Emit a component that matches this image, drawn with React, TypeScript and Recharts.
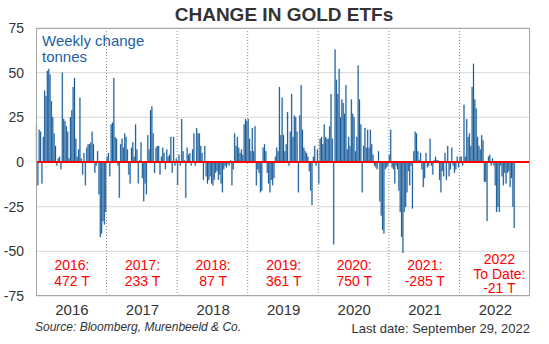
import React from 'react';
import { BarChart, Bar, XAxis, YAxis, CartesianGrid, ReferenceLine } from 'recharts';

// weekly change in gold ETF holdings, tonnes
const years = ['2016', '2017', '2018', '2019', '2020', '2021', '2022'];

const w2016 = [21, -13, 18, 17, -12, 14, 40, 37, 51, 52, 49, 34, 25, 16, 9, -2, 2, 3, -4, 50, 24, 23, 20, 17, 2, 25, 29, 42, 47, 13, 3, 7, 36, 2, -7, 5, -13, 8, 10, 10, 11, 17, 10, -6, -2, 6, -18, -42, -40, -33, -35, -28];
const w2017 = [3, 5, -8, 21, 22, 47, 14, 13, -2, -20, 10, 13, 8, 16, 14, 7, -7, -12, 8, 11, 3, 21, 7, -12, 1, 11, -9, -22, -12, -18, 15, 7, 29, 31, 16, -6, 8, 9, 9, -7, 3, 8, 5, -4, 7, 3, 4, 14, -6, 14, -2, 2];
const w2018 = [-13, 4, -2, 24, 6, 1, -20, 8, 4, 5, -2, 7, 16, -2, 19, 16, 16, 9, 5, -10, 9, -8, -12, -10, -8, -12, -13, -10, -6, -5, -10, -7, -12, -17, -4, -2, -3, -1, -2, 1, -13, -4, 16, 9, 14, 8, 5, 7, 4, 21, 24, 23];
const w2019 = [24, 13, 6, 19, 6, 20, -13, -4, -6, -17, -16, 8, 10, 6, -6, -12, -17, -10, -13, -9, 3, 8, 6, 42, 15, 36, 15, 6, 10, 28, -2, 17, 38, 14, 26, 25, 17, -17, 26, 43, 18, 8, 6, 5, 3, -5, -16, -24, 3, 9, -2, 7];
const w2020 = [-12, 13, 14, 10, 21, 14, 13, 13, 20, 38, 13, -46, 63, 46, 38, 52, 25, 35, 33, 27, 43, 7, 14, 9, 35, 27, 25, 6, 14, 54, 35, 21, -17, 9, 19, 8, 18, 8, 18, 10, 4, -2, -3, -4, 6, -22, -30, -38, -40, -4, -3, -2];
const w2021 = [4, 18, -3, -4, -12, -2, -4, -16, -28, -42, -51, -28, -25, -17, -5, -13, -2, -26, 6, 17, 16, 6, 1, 5, -4, -14, -9, 5, -3, -2, 13, -2, -7, 1, 3, 1, 1, -10, -17, -5, -8, 5, -10, 9, -8, -4, 8, -2, -6, -4, 3, -3];
const w2022 = [3, 3, -2, 32, 3, 24, 14, 16, 9, 42, 55, 35, 30, 14, 9, 7, 15, 12, -11, -11, -33, 3, 4, -2, 2, -2, -13, -28, -25, -28, -2, -8, -13, -6, -12, -6, -5, -14, -9, -25, -37];

const yearNotes = [
  ['2016:', '472 T'],
  ['2017:', '233 T'],
  ['2018:', '87 T'],
  ['2019:', '361 T'],
  ['2020:', '750 T'],
  ['2021:', '-285 T'],
  ['2022', 'To Date:', '-21 T'],
];

const yTicks = [-75, -50, -25, 0, 25, 50, 75];

const WEEKS = 52;
const weekly = [w2016, w2017, w2018, w2019, w2020, w2021, w2022];
const data = weekly.flatMap((arr, k) =>
  Array.from({ length: WEEKS }, (_, i) => ({ idx: k * WEEKS + i, v: i < arr.length ? arr[i] : null }))
);

const FONT = '"Liberation Sans", Arial, sans-serif';

const YearNote = ({ viewBox, lines }: any) => {
  const three = lines.length > 2;
  const x = (viewBox ? viewBox.x : 0) + (three ? 4 : 0);
  const lh = three ? 14.5 : 16;
  const last = three ? 293 : 286;
  return (
    <text x={x} textAnchor="middle" fill="#ff0000" fontSize={14} fontFamily={FONT}>
      {lines.map((l: string, i: number) => (
        <tspan key={i} x={x} y={last - (lines.length - 1 - i) * lh}>{l}</tspan>
      ))}
    </text>
  );
};

export default function App() {
  return (
    <div style={{ position: 'fixed', left: 0, top: 0, width: 549, height: 344, background: '#fff', fontFamily: FONT }}>
      <div style={{ position: 'absolute', left: 0, top: 4, width: 568, textAlign: 'center', fontSize: 19, fontWeight: 'bold', lineHeight: '22px', color: '#333' }}>
        CHANGE IN GOLD ETFs
      </div>
      <BarChart width={549} height={344} data={data} margin={{ top: 28, right: 19, bottom: 18, left: 0 }} barCategoryGap={0}>
        <CartesianGrid vertical={false} stroke="#d9d9d9" />
        <XAxis
          dataKey="idx"
          type="category"
          ticks={years.map((_, k) => k * WEEKS + 26)}
          interval={0}
          tickFormatter={(v: number) => years[Math.floor(v / WEEKS)]}
          tickLine={false}
          axisLine={false}
          height={30}
          tick={{ fontSize: 15, fill: '#333', fontFamily: FONT }}
        />
        <YAxis
          domain={[-75, 75]}
          ticks={yTicks}
          width={36}
          tickLine={false}
          axisLine={false}
          tickMargin={6}
          tick={{ fontSize: 14, fill: '#333', fontFamily: FONT }}
        />
        {years.slice(1).map((_, k) => (
          <ReferenceLine key={'sep' + k} x={(k + 1) * WEEKS} position="start" stroke="#8c8c8c" strokeDasharray="1 2" />
        ))}
        <Bar dataKey="v" fill="#0a4f8f" stroke="#3f7db5" strokeWidth={0.3} isAnimationActive={false} />
        <ReferenceLine y={0} stroke="#ff0000" strokeWidth={2} />
        {yearNotes.map((lines, k) => (
          <ReferenceLine key={'note' + k} x={k * WEEKS + 26} stroke="none" label={<YearNote lines={lines} />} />
        ))}
      </BarChart>
      <div style={{ position: 'absolute', left: 36, top: 28, width: 494, height: 268, border: '1px solid #a6a6a6', boxSizing: 'border-box', pointerEvents: 'none' }} />
      <div style={{ position: 'absolute', left: 42, top: 33, fontSize: 15, lineHeight: '16px', color: '#1f5f9e' }}>
        Weekly change<br />tonnes
      </div>
      <div style={{ position: 'absolute', left: 35, top: 320, fontSize: 12, lineHeight: '14px', fontStyle: 'italic', color: '#333' }}>
        Source: Bloomberg, Murenbeeld &amp; Co.
      </div>
      <div style={{ position: 'absolute', right: 19, top: 322, fontSize: 13, lineHeight: '14px', color: '#333' }}>
        Last date: September 29, 2022
      </div>
    </div>
  );
}
